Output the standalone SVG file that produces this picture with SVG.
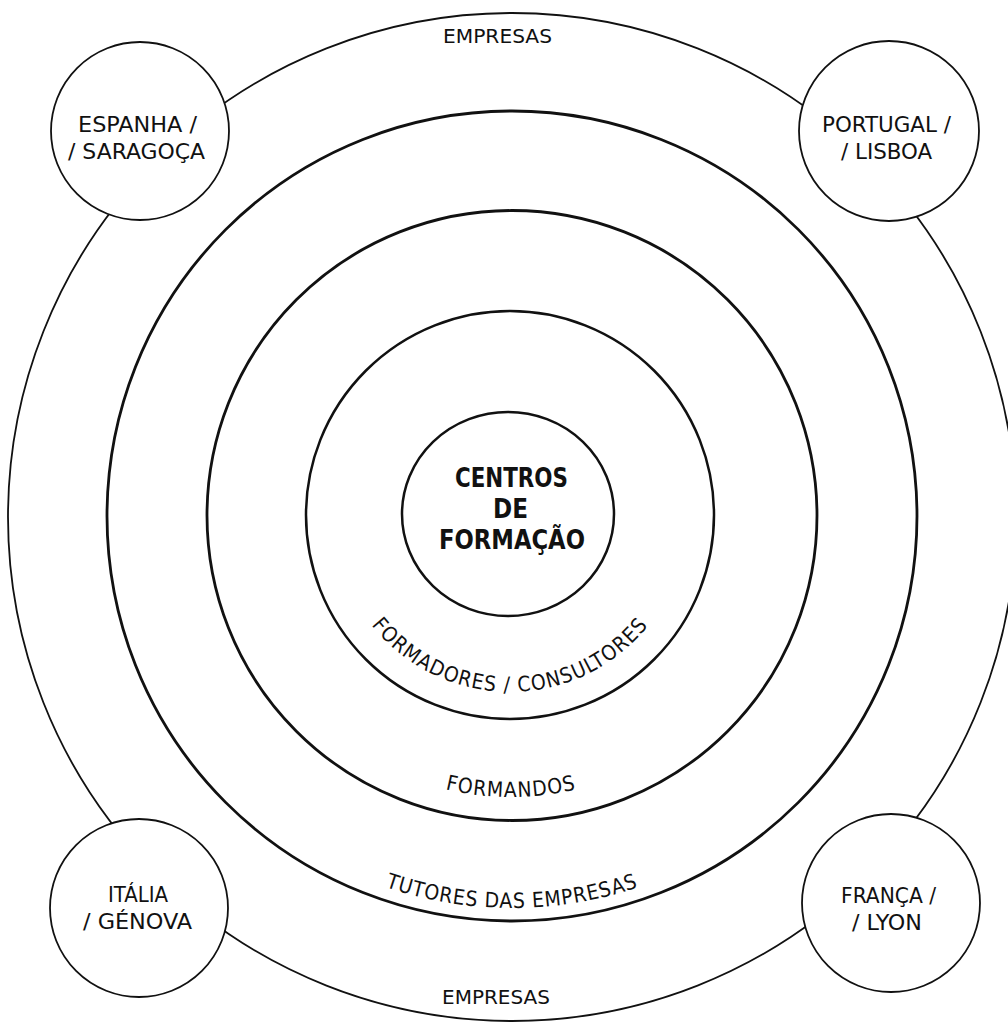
<svg xmlns="http://www.w3.org/2000/svg" xmlns:xlink="http://www.w3.org/1999/xlink" width="1008" height="1023" viewBox="0 0 1008 1023">
<style>
  .bg { fill: #ffffff; }
  .ring { fill: none; stroke: #111111; }
  .thin { stroke-width: 1.8; }
  .thick { stroke-width: 2.8; }
  .mid { stroke-width: 2.5; }
  .country { fill: #ffffff; stroke: #111111; stroke-width: 1.8; }
  .lbl { font-family: "DejaVu Sans Condensed", "DejaVu Sans", sans-serif; font-stretch: condensed; fill: #111111; text-anchor: middle; }
  .node { font-size: 22px; }
  .ringlbl { font-size: 21px; }
  .centre { font-family: "DejaVu Sans Condensed", "DejaVu Sans", sans-serif; font-stretch: condensed; font-weight: bold; font-size: 26px; fill: #111111; text-anchor: middle; }
</style>
<defs>
  <path id="arc-formadores" d="M335.7,545.7 A177,177 0 0 0 684.3,545.7"/>
  <path id="arc-formandos" d="M370,759.2 A282,282 0 0 0 652,759.2"/>
  <path id="arc-tutores" d="M315.5,855.3 A393,393 0 0 0 708.5,855.3"/>
</defs>
<rect class="bg" x="0" y="0" width="1008" height="1023"/>

<g id="ring-empresas">
  <circle class="ring thin" cx="512" cy="517" r="504"/>
  <text class="lbl" x="497.5" y="43" font-size="20" textLength="109" lengthAdjust="spacingAndGlyphs">EMPRESAS</text>
  <text class="lbl" x="496" y="1004" font-size="20" textLength="108" lengthAdjust="spacingAndGlyphs">EMPRESAS</text>
</g>

<g id="ring-tutores">
  <circle class="ring thick" cx="512" cy="516" r="405"/>
  <text class="lbl ringlbl" font-size="22" letter-spacing="0.8"><textPath xlink:href="#arc-tutores" href="#arc-tutores" startOffset="50%">TUTORES DAS EMPRESAS</textPath></text>
</g>

<g id="ring-formandos">
  <circle class="ring thick" cx="512" cy="515.5" r="305"/>
  <text class="lbl ringlbl" font-size="21" letter-spacing="1"><textPath xlink:href="#arc-formandos" href="#arc-formandos" startOffset="50%">FORMANDOS</textPath></text>
</g>

<g id="ring-formadores">
  <circle class="ring mid" cx="510" cy="515" r="204"/>
  <text class="lbl ringlbl" font-size="22" letter-spacing="1.1"><textPath xlink:href="#arc-formadores" href="#arc-formadores" startOffset="50%">FORMADORES / CONSULTORES</textPath></text>
</g>

<g id="centros-de-formacao">
  <ellipse class="ring mid" cx="508" cy="514" rx="106" ry="102"/>
  <text class="centre" x="511.5" y="487" textLength="113" lengthAdjust="spacingAndGlyphs">CENTROS</text>
  <text class="centre" x="510.5" y="518" textLength="35" lengthAdjust="spacingAndGlyphs">DE</text>
  <text class="centre" x="512" y="549" textLength="146" lengthAdjust="spacingAndGlyphs">FORMAÇÃO</text>
</g>

<g id="espanha">
  <circle class="country" cx="140" cy="131" r="89"/>
  <text class="lbl node" x="137.5" y="132" textLength="119" lengthAdjust="spacingAndGlyphs">ESPANHA /</text>
  <text class="lbl node" x="136.5" y="159" textLength="137" lengthAdjust="spacingAndGlyphs">/ SARAGOÇA</text>
</g>

<g id="portugal">
  <circle class="country" cx="889" cy="131" r="90"/>
  <text class="lbl node" x="886.5" y="132" textLength="129" lengthAdjust="spacingAndGlyphs">PORTUGAL /</text>
  <text class="lbl node" x="886.5" y="159" textLength="91" lengthAdjust="spacingAndGlyphs">/ LISBOA</text>
</g>

<g id="italia">
  <circle class="country" cx="139" cy="908" r="89"/>
  <text class="lbl node" x="138" y="902" textLength="60" lengthAdjust="spacingAndGlyphs">ITÁLIA</text>
  <text class="lbl node" x="137.5" y="929" textLength="109" lengthAdjust="spacingAndGlyphs">/ GÉNOVA</text>
</g>

<g id="franca">
  <circle class="country" cx="891" cy="903" r="89"/>
  <text class="lbl node" x="888.5" y="903" textLength="95" lengthAdjust="spacingAndGlyphs">FRANÇA /</text>
  <text class="lbl node" x="887" y="930" textLength="70" lengthAdjust="spacingAndGlyphs">/ LYON</text>
</g>

<g id="connectors"></g>
</svg>
